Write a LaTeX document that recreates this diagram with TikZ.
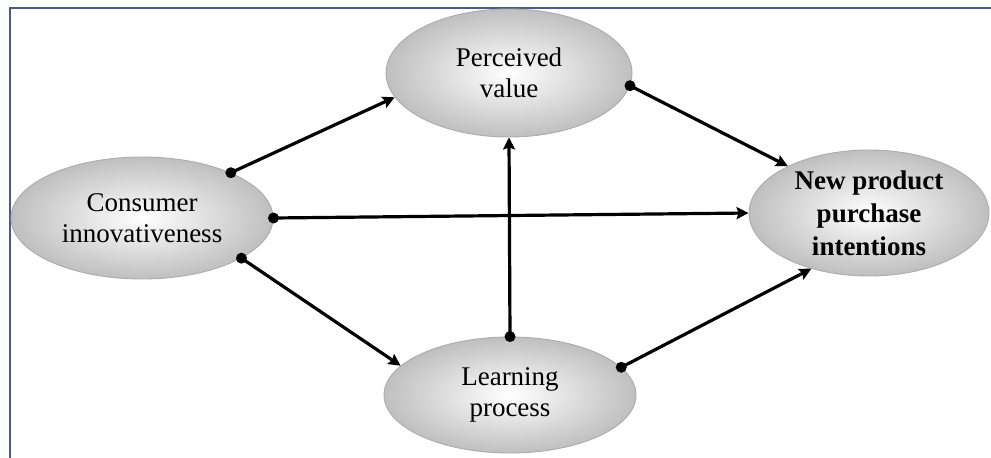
\documentclass[tikz,border=0pt]{standalone}
\usepackage{fontspec}
\setmainfont{Liberation Serif}
\usetikzlibrary{shapes.geometric,arrows.meta}
\begin{document}
\begin{tikzpicture}[x=1pt,y=-1pt,
  ell/.style={ellipse, draw=gray!65, line width=0.9pt, inner color=white, outer color=gray!50,
    inner sep=0pt, align=center, font=\fontsize{27}{31}\selectfont},
  link/.style={line width=3.2pt, -{Stealth[length=12pt,width=12pt,inset=2pt]}},
  frame/.style={draw=frameblue, line width=2.5pt}]
\definecolor{frameblue}{HTML}{4B5B85}
\useasboundingbox (0,0) rectangle (991,458);
\draw[frame] (10,458) -- (10,8) -- (991,8);
\node[ell, minimum width=246pt, minimum height=128pt] (pv) at (509,73) {Perceived\\value};
\node[ell, minimum width=262pt, minimum height=122pt] (ci) at (142,218) {Consumer\\innovativeness};
\node[ell, minimum width=240pt, minimum height=126pt, font=\fontsize{27}{33}\selectfont\bfseries] (np) at (869,213) {New product\\purchase\\intentions};
\node[ell, minimum width=252pt, minimum height=116pt] (lp) at (510,395) {Learning\\process};
\draw[link] (ci.27) -- (pv.192);
\draw[link] (ci.0) -- (np.180);
\draw[link] (ci.-22) -- (lp.165);
\draw[link] (lp.90) -- (pv.270);
\draw[link] (pv.-6) -- (np.150);
\draw[link] (lp.14) -- (np.224);
\foreach \p in {ci.27, ci.0, ci.-22, lp.90, pv.-6, lp.14}
  \fill (\p) circle[radius=5.5pt];
\end{tikzpicture}
\end{document}
